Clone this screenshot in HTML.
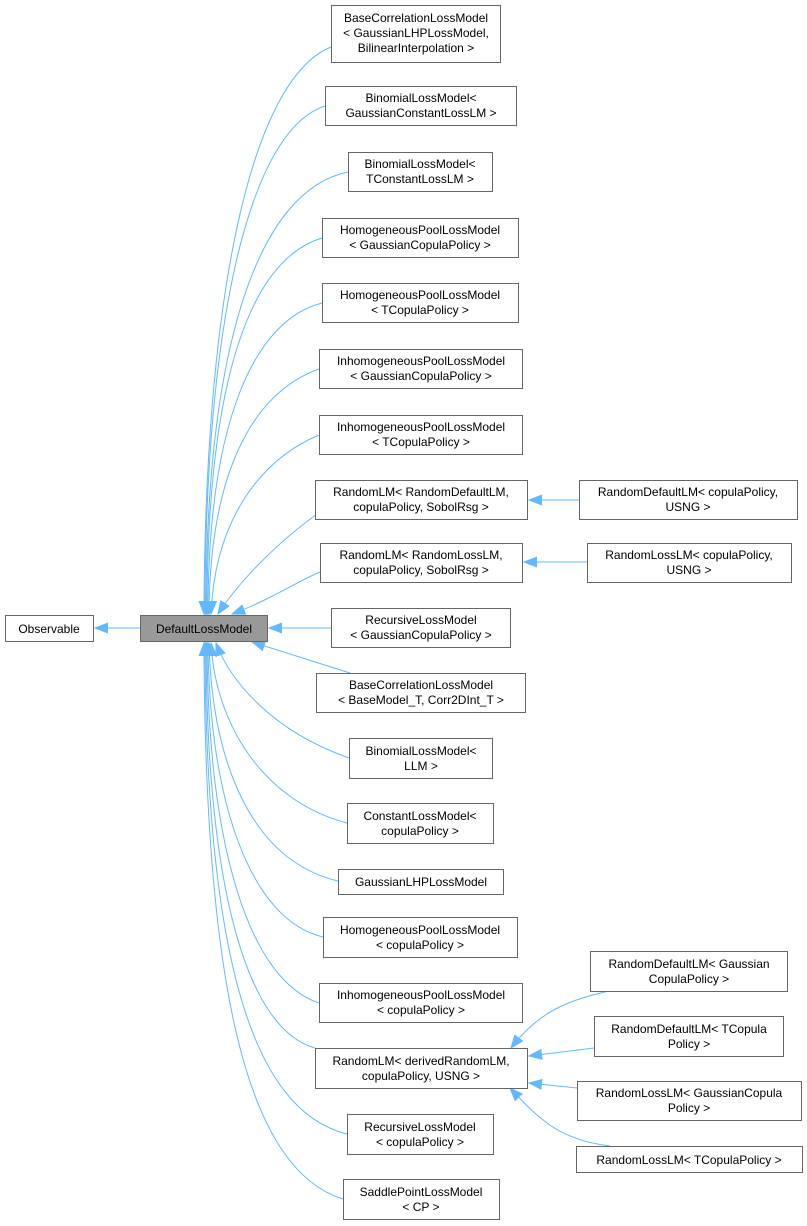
<!DOCTYPE html>
<html><head><meta charset="utf-8"><style>
html,body{margin:0;padding:0;background:#fff;}
svg{display:block;}
text{font-family:"Liberation Sans",Helvetica,Arial,sans-serif;font-size:12px;fill:#000;}
</style></head><body>
<svg width="807" height="1226" viewBox="0 0 807 1226" xmlns="http://www.w3.org/2000/svg">
<defs>
<marker id="a" markerWidth="14" markerHeight="12" refX="13" refY="6" orient="auto" markerUnits="userSpaceOnUse">
<path d="M0,1 L13,6 L0,11 Z" fill="#63b8ff" stroke="#63b8ff"/>
</marker>
</defs>
<g fill="none" stroke="#63b8ff" stroke-width="1">
<!-- Observable <- DefaultLossModel -->
<path d="M140,628 L95,628" marker-end="url(#a)"/>
<!-- upper children -->
<path d="M331,47 C250,80 205,300 204,614" marker-end="url(#a)"/>
<path d="M325,106 C250,130 205,320 205,614" marker-end="url(#a)"/>
<path d="M348,172 C260,190 206,340 206,614" marker-end="url(#a)"/>
<path d="M322,238 C250,260 207,380 207,614" marker-end="url(#a)"/>
<path d="M322,303 C255,320 208,420 208,614" marker-end="url(#a)"/>
<path d="M319,369 C260,390 210,460 209,614" marker-end="url(#a)"/>
<path d="M319,435 C260,460 215,520 211,614" marker-end="url(#a)"/>
<path d="M320,512 C280,540 240,580 218,614" marker-end="url(#a)"/>
<path d="M320,572 C300,580 270,600 232,614" marker-end="url(#a)"/>
<path d="M331,628 L269,628" marker-end="url(#a)"/>
<path d="M350,673 L252,642" marker-end="url(#a)"/>
<path d="M349,758 C270,730 230,680 216,643" marker-end="url(#a)"/>
<path d="M347,823 C260,800 215,720 211,643" marker-end="url(#a)"/>
<path d="M338,881 C250,860 212,760 209,643" marker-end="url(#a)"/>
<path d="M323,937 C250,920 209,800 208,643" marker-end="url(#a)"/>
<path d="M319,1003 C250,980 208,850 207,643" marker-end="url(#a)"/>
<path d="M315,1048 C250,1030 207,900 206,643" marker-end="url(#a)"/>
<path d="M347,1134 C250,1110 206,950 205,643" marker-end="url(#a)"/>
<path d="M343,1199 C250,1170 205,1000 204,643" marker-end="url(#a)"/>
<!-- col3 -->
<path d="M579,500 L529,500" marker-end="url(#a)"/>
<path d="M587,562 L524,562" marker-end="url(#a)"/>
<path d="M609,991 C570,1000 540,1010 511,1048" marker-end="url(#a)"/>
<path d="M594,1048 L529,1056" marker-end="url(#a)"/>
<path d="M577,1088 L529,1083" marker-end="url(#a)"/>
<path d="M610,1146 C560,1140 540,1120 510,1088" marker-end="url(#a)"/>
</g>
<g stroke="#666" stroke-width="1" fill="#fff">
<rect x="5.5" y="615.5" width="88" height="26"/>
<rect x="140.5" y="615.5" width="127" height="26" fill="#999"/>
<rect x="331.5" y="5.5" width="169" height="57"/>
<rect x="325.5" y="86.5" width="191" height="39"/>
<rect x="348.5" y="152.5" width="144" height="39"/>
<rect x="322.5" y="218.5" width="196" height="39"/>
<rect x="322.5" y="283.5" width="196" height="39"/>
<rect x="319.5" y="349.5" width="203" height="39"/>
<rect x="319.5" y="415.5" width="203" height="39"/>
<rect x="315.5" y="480.5" width="212" height="39"/>
<rect x="320.5" y="543.5" width="202" height="39"/>
<rect x="331.5" y="608.5" width="179" height="39"/>
<rect x="316.5" y="673.5" width="209" height="39"/>
<rect x="349.5" y="738.5" width="143" height="40"/>
<rect x="347.5" y="803.5" width="146" height="40"/>
<rect x="338.5" y="869.5" width="165" height="25"/>
<rect x="323.5" y="917.5" width="194" height="40"/>
<rect x="319.5" y="983.5" width="203" height="39"/>
<rect x="315.5" y="1048.5" width="212" height="40"/>
<rect x="347.5" y="1114.5" width="146" height="40"/>
<rect x="343.5" y="1179.5" width="156" height="40"/>
<rect x="579.5" y="480.5" width="218" height="39"/>
<rect x="587.5" y="543.5" width="204" height="39"/>
<rect x="590.5" y="951.5" width="197" height="40"/>
<rect x="594.5" y="1016.5" width="189" height="40"/>
<rect x="577.5" y="1081.5" width="224" height="39"/>
<rect x="576.5" y="1146.5" width="226" height="26"/>
</g>
<g text-anchor="middle">
<text x="49" y="633">Observable</text>
<text x="204" y="633">DefaultLossModel</text>
<text x="416" y="22">BaseCorrelationLossModel</text><text x="416" y="37">&lt; GaussianLHPLossModel,</text><text x="416" y="52">BilinearInterpolation &gt;</text>
<text x="421" y="102">BinomialLossModel&lt;</text><text x="421" y="117">GaussianConstantLossLM &gt;</text>
<text x="420" y="168">BinomialLossModel&lt;</text><text x="420" y="183">TConstantLossLM &gt;</text>
<text x="420" y="234">HomogeneousPoolLossModel</text><text x="420" y="249">&lt; GaussianCopulaPolicy &gt;</text>
<text x="420" y="299">HomogeneousPoolLossModel</text><text x="420" y="314">&lt; TCopulaPolicy &gt;</text>
<text x="421" y="365">InhomogeneousPoolLossModel</text><text x="421" y="380">&lt; GaussianCopulaPolicy &gt;</text>
<text x="421" y="431">InhomogeneousPoolLossModel</text><text x="421" y="446">&lt; TCopulaPolicy &gt;</text>
<text x="421" y="496">RandomLM&lt; RandomDefaultLM,</text><text x="421" y="511">copulaPolicy, SobolRsg &gt;</text>
<text x="421" y="559">RandomLM&lt; RandomLossLM,</text><text x="421" y="574">copulaPolicy, SobolRsg &gt;</text>
<text x="421" y="624">RecursiveLossModel</text><text x="421" y="639">&lt; GaussianCopulaPolicy &gt;</text>
<text x="421" y="689">BaseCorrelationLossModel</text><text x="421" y="704">&lt; BaseModel_T, Corr2DInt_T &gt;</text>
<text x="421" y="755">BinomialLossModel&lt;</text><text x="421" y="770">LLM &gt;</text>
<text x="420" y="820">ConstantLossModel&lt;</text><text x="420" y="835">copulaPolicy &gt;</text>
<text x="421" y="886">GaussianLHPLossModel</text>
<text x="420" y="934">HomogeneousPoolLossModel</text><text x="420" y="949">&lt; copulaPolicy &gt;</text>
<text x="421" y="999">InhomogeneousPoolLossModel</text><text x="421" y="1014">&lt; copulaPolicy &gt;</text>
<text x="421" y="1065">RandomLM&lt; derivedRandomLM,</text><text x="421" y="1080">copulaPolicy, USNG &gt;</text>
<text x="420" y="1131">RecursiveLossModel</text><text x="420" y="1146">&lt; copulaPolicy &gt;</text>
<text x="421" y="1196">SaddlePointLossModel</text><text x="421" y="1211">&lt; CP &gt;</text>
<text x="688" y="496">RandomDefaultLM&lt; copulaPolicy,</text><text x="688" y="511">USNG &gt;</text>
<text x="689" y="559">RandomLossLM&lt; copulaPolicy,</text><text x="689" y="574">USNG &gt;</text>
<text x="689" y="968">RandomDefaultLM&lt; Gaussian</text><text x="689" y="983">CopulaPolicy &gt;</text>
<text x="689" y="1033">RandomDefaultLM&lt; TCopula</text><text x="689" y="1048">Policy &gt;</text>
<text x="689" y="1097">RandomLossLM&lt; GaussianCopula</text><text x="689" y="1112">Policy &gt;</text>
<text x="689" y="1164">RandomLossLM&lt; TCopulaPolicy &gt;</text>
</g>
</svg>
</body></html>
